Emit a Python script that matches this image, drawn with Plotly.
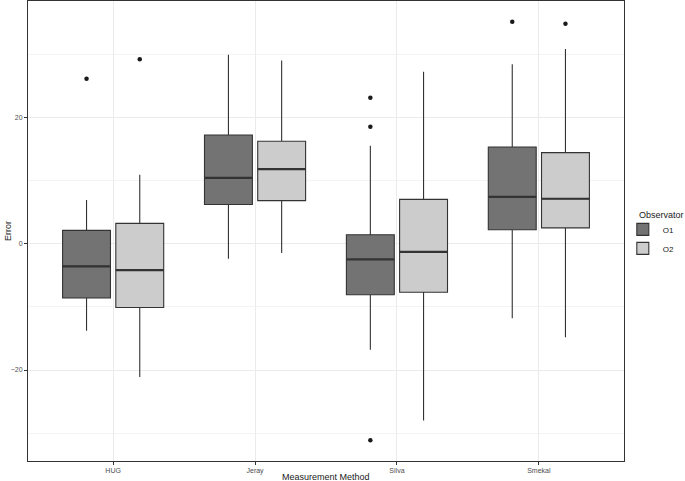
import plotly.graph_objects as go

methods = ["HUG", "Jeray", "Silva", "Smekal"]
observers = ["O1", "O2"]

# box statistics per observer (order follows methods)
q1 = {"O1": [-8.6, 6.2, -8.1, 2.2], "O2": [-10.1, 6.8, -7.7, 2.5]}
median = {"O1": [-3.6, 10.4, -2.5, 7.4], "O2": [-4.2, 11.8, -1.3, 7.1]}
q3 = {"O1": [2.1, 17.2, 1.4, 15.3], "O2": [3.2, 16.2, 7.0, 14.4]}
lower = {"O1": [-13.8, -2.4, -16.8, -11.8], "O2": [-21.1, -1.5, -28.0, -14.8]}
upper = {"O1": [6.9, 29.9, 15.5, 28.4], "O2": [10.9, 29.0, 27.2, 30.8]}

# outliers
out_x = {"O1": ["HUG", "Silva", "Silva", "Silva", "Smekal"], "O2": ["HUG", "Smekal"]}
out_y = {"O1": [26.1, 23.1, 18.5, -31.1, 35.1], "O2": [29.2, 34.8]}

fills = {"O1": "#737373", "O2": "#CCCCCC"}
line_col = "#333333"

BOXGAP = 0.25
GROUPGAP = 0.1

fig = go.Figure()
for ob in observers:
    fig.add_trace(go.Box(
        name=ob, x=methods, q1=q1[ob], median=median[ob], q3=q3[ob],
        lowerfence=lower[ob], upperfence=upper[ob],
        fillcolor=fills[ob], line=dict(color=line_col, width=1.1),
        whiskerwidth=0, offsetgroup=ob, legendgroup=ob, boxpoints=False,
    ))
for ob in observers:
    fig.add_trace(go.Scatter(
        x=out_x[ob], y=out_y[ob], mode="markers", offsetgroup=ob,
        marker=dict(color="#1a1a1a", size=4.5), showlegend=False,
        legendgroup=ob, hoverinfo="y",
    ))

# thicker median lines (ggplot style), positioned on the category scale
slot = (1 - BOXGAP) / len(observers)
half = slot * (1 - GROUPGAP) / 2
for k, ob in enumerate(observers):
    off = -(1 - BOXGAP) / 2 + slot * (k + 0.5)
    for i, m in enumerate(methods):
        fig.add_shape(type="line", xref="x", yref="y",
                      x0=i + off - half, x1=i + off + half,
                      y0=median[ob][i], y1=median[ob][i],
                      line=dict(color=line_col, width=2.2))

font = "Liberation Sans, Arial, Helvetica, sans-serif"
fig.update_layout(
    width=685, height=481,
    margin=dict(l=28, r=61, t=1, b=20, autoexpand=False),
    paper_bgcolor="white", plot_bgcolor="white",
    boxmode="group", boxgap=BOXGAP, boxgroupgap=GROUPGAP,
    scattermode="group", scattergap=BOXGAP,
    font=dict(family=font, color="#4D4D4D", size=7),
    showlegend=True,
    legend=dict(
        x=0.998, xanchor="left", y=0.535, yanchor="top",
        font=dict(size=8, color="#1a1a1a"), tracegroupgap=0,
        itemwidth=30, bgcolor="rgba(0,0,0,0)", borderwidth=0,
    ),
    xaxis=dict(
        type="category", categoryorder="array", categoryarray=methods,
        range=[-0.6, 3.6], showgrid=True, gridcolor="#EBEBEB", gridwidth=1,
        ticks="outside", ticklen=3, tickcolor="#333333", tickwidth=1,
        tickfont=dict(size=7, color="#4D4D4D"), automargin=False,
        showline=True, linecolor="#333333", linewidth=1, mirror=True,
        zeroline=False, fixedrange=True,
    ),
    yaxis=dict(
        range=[-34.4, 38.4], tickvals=[-20, 0, 20], automargin=False,
        showgrid=True, gridcolor="#EBEBEB", gridwidth=1,
        minor=dict(tickvals=[-30, -10, 10, 30], showgrid=True,
                   gridcolor="#F4F4F4", gridwidth=0.6),
        ticks="outside", ticklen=3, tickcolor="#333333", tickwidth=1,
        tickfont=dict(size=7, color="#4D4D4D"),
        showline=True, linecolor="#333333", linewidth=1, mirror=True,
        zeroline=False,
    ),
    annotations=[
        dict(text="Measurement Method", x=0.5, xref="paper", y=0, yref="paper",
             yshift=-16, xanchor="center", yanchor="middle", showarrow=False,
             font=dict(size=9, color="#1a1a1a")),
        dict(text="Error", x=0, xref="paper", y=0.5, yref="paper",
             xshift=-27, xanchor="left", yanchor="middle", textangle=-90,
             showarrow=False, font=dict(size=9, color="#1a1a1a")),
        dict(text="Observator", x=1, xref="paper", y=0.535, yref="paper",
             xshift=13, xanchor="left", yanchor="middle", showarrow=False,
             font=dict(size=9, color="#1a1a1a")),
    ],
)

fig.write_html("out.html", config={"displayModeBar": False},
               post_script="document.body.style.margin='0';document.body.style.padding='0';")
